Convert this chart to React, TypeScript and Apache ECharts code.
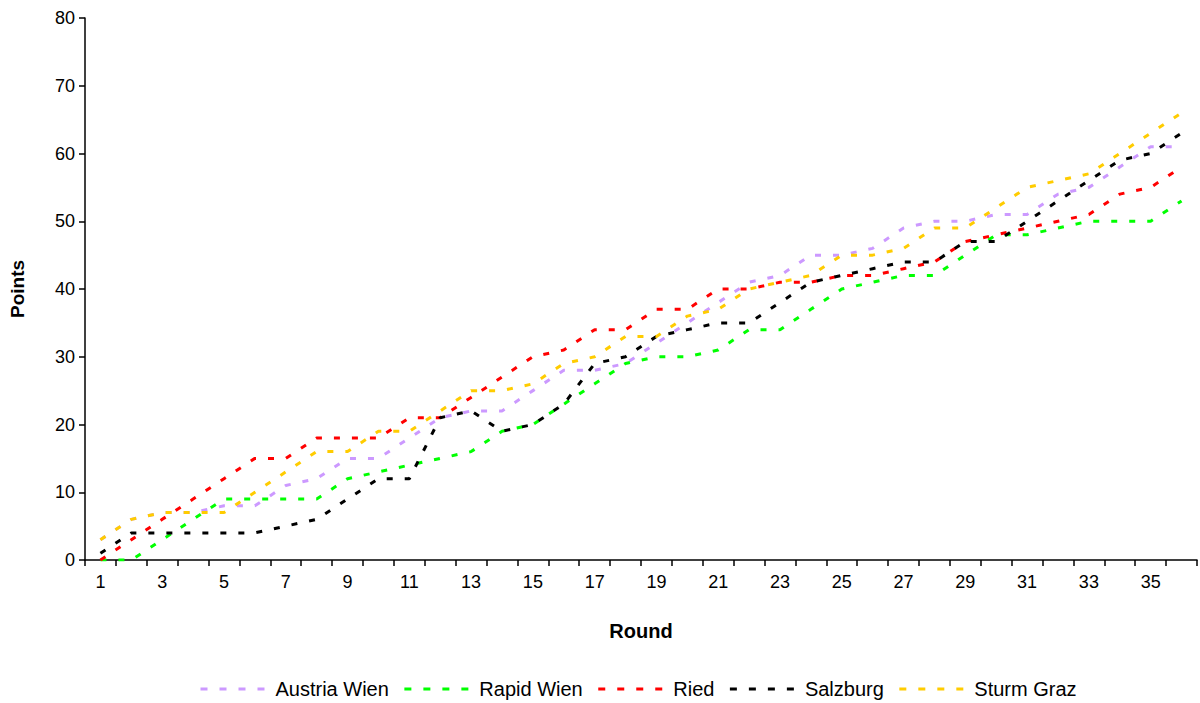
import React, { useEffect, useRef } from "react";
import * as echarts from "echarts";

const rounds = ["1","2","3","4","5","6","7","8","9","10","11","12","13","14","15","16","17","18","19","20","21","22","23","24","25","26","27","28","29","30","31","32","33","34","35","36"];

const austriaWien = [3,6,7,7,8,8,11,12,15,15,18,21,22,22,25,28,28,29,32,35,38,41,42,45,45,46,49,50,50,51,51,54,55,58,61,61];
const rapidWien = [0,0,3,6,9,9,9,9,12,13,14,15,16,19,20,23,26,29,30,30,31,34,34,37,40,41,42,42,45,48,48,49,50,50,50,53];
const ried = [0,3,6,9,12,15,15,18,18,18,21,21,24,27,30,31,34,34,37,37,40,40,41,41,42,42,43,44,47,48,49,50,51,54,55,58];
const salzburg = [1,4,4,4,4,4,5,6,9,12,12,21,22,19,20,23,29,30,33,34,35,35,38,41,42,43,44,44,47,47,50,53,56,59,60,63];
const sturmGraz = [3,6,7,7,7,10,13,16,16,19,19,22,25,25,26,29,30,33,33,36,37,40,41,42,45,45,46,49,49,52,55,56,57,60,63,66];

const seriesNames = ["Austria Wien", "Rapid Wien", "Ried", "Salzburg", "Sturm Graz"];
const seriesData = [austriaWien, rapidWien, ried, salzburg, sturmGraz];
const seriesColors = ["#CC99FF", "#00FF00", "#FF0000", "#000000", "#FFCC00"];

const FONT = "'Liberation Sans', Arial, sans-serif";

export default function App() {
  const ref = useRef<HTMLDivElement>(null);
  useEffect(() => {
    if (!ref.current) return;
    const chart = echarts.init(ref.current, null, { renderer: "svg" });
    chart.setOption({
      animation: false,
      backgroundColor: "#ffffff",
      textStyle: { fontFamily: FONT },
      grid: { left: 85, right: 3, top: 18, bottom: 143, containLabel: false },
      legend: {
        top: 674,
        left: 194,
        itemWidth: 66,
        itemHeight: 10,
        itemGap: 14,
        itemStyle: { opacity: 0 },
        lineStyle: { width: 3, type: [7, 12], cap: "butt" },
        textStyle: { fontFamily: FONT, fontSize: 20, color: "#000", padding: [0, 0, 0, 4] },
        data: seriesNames,
      },
      xAxis: {
        type: "category",
        data: rounds,
        boundaryGap: true,
        name: "Round",
        nameLocation: "middle",
        nameGap: 61,
        nameTextStyle: { fontFamily: FONT, fontSize: 20, fontWeight: "bold", color: "#000" },
        axisLine: { lineStyle: { color: "#000", width: 1.5 } },
        axisTick: { show: true, interval: 0, length: 6, lineStyle: { color: "#000", width: 1.5 } },
        axisLabel: { interval: 1, margin: 13, fontFamily: FONT, fontSize: 18, color: "#000" },
        splitLine: { show: false },
      },
      yAxis: {
        type: "value",
        min: 0,
        max: 80,
        interval: 10,
        name: "Points",
        nameLocation: "middle",
        nameRotate: 90,
        nameGap: 58,
        nameTextStyle: { fontFamily: FONT, fontSize: 19, fontWeight: "bold", color: "#000" },
        axisLine: { show: true, lineStyle: { color: "#000", width: 1.5 } },
        axisTick: { show: true, length: 6, lineStyle: { color: "#000", width: 1.5 } },
        axisLabel: { margin: 10, fontFamily: FONT, fontSize: 18, color: "#000" },
        splitLine: { show: false },
      },
      series: seriesNames.map((name, i) => ({
        name,
        type: "line",
        data: seriesData[i],
        symbol: "none",
        showSymbol: false,
        color: seriesColors[i],
        lineStyle: { color: seriesColors[i], width: 3, type: [6, 12], cap: "butt" },
        itemStyle: { color: seriesColors[i] },
      })),
    });
    return () => chart.dispose();
  }, []);
  return (
    <div
      ref={ref}
      style={{ position: "fixed", left: 0, top: 0, width: 1200, height: 703, background: "#fff" }}
    />
  );
}
